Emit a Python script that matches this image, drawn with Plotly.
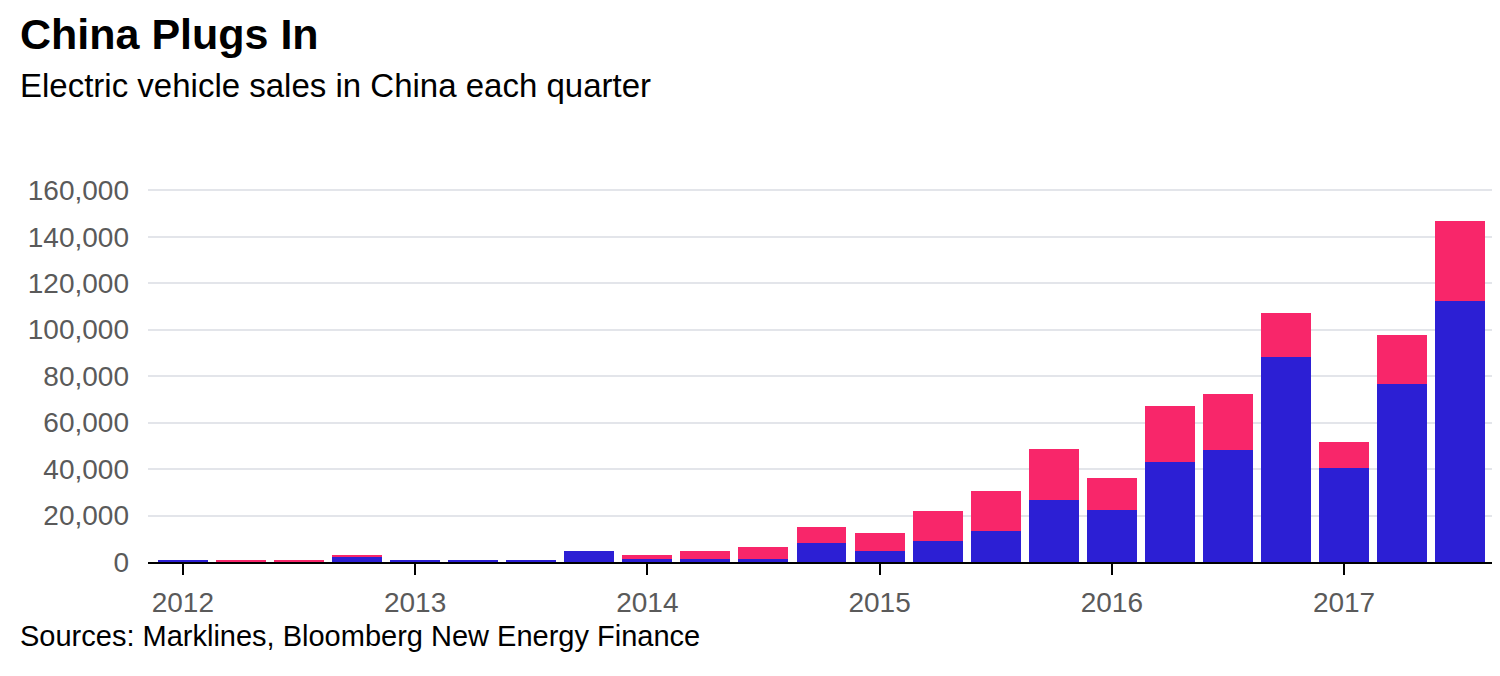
import plotly.graph_objects as go

quarters = [f"{y} Q{q}" for y in range(2012, 2018) for q in range(1, 5)][:23]
battery_electric = [800, 0, 0, 2400, 800, 800, 800, 4950,
                    1500, 1500, 1500, 8300, 4860, 9160, 13460, 26480,
                    22230, 42870, 48030, 88450, 40290, 76410, 112530]
plug_in_hybrid = [0, 800, 800, 800, 0, 0, 0, 0,
                  1700, 3450, 5160, 6880, 7740, 12900, 17200, 22320,
                  13770, 24080, 24080, 18920, 11180, 21500, 34400]
year_ticks = ["2012 Q1", "2013 Q1", "2014 Q1", "2015 Q1", "2016 Q1", "2017 Q1"]
year_labels = ["2012", "2013", "2014", "2015", "2016", "2017"]
y_ticks = [0, 20000, 40000, 60000, 80000, 100000, 120000, 140000, 160000]

# page body has an 8px margin; target screen coords are converted below
OFF = 8
W, H = 1500, 676
L, R, T, B = 148 - OFF, 13, 181 - OFF, 114 + OFF
PW, PH = W - L - R, H - T - B

def px(x):
    return (x - OFF - L) / PW

def py(y):
    return (H - B - (y - OFF)) / PH

FONT = "Liberation Sans, Arial, sans-serif"

fig = go.Figure()
fig.add_trace(go.Bar(x=quarters, y=battery_electric, name="Battery electric",
                     marker=dict(color="#2c1fd4", line=dict(width=0))))
fig.add_trace(go.Bar(x=quarters, y=plug_in_hybrid, name="Plug-in hybrid",
                     marker=dict(color="#f8266a", line=dict(width=0))))

fig.update_layout(
    width=W, height=H,
    margin=dict(l=L, r=R, t=T, b=B, autoexpand=False),
    barmode="stack", bargap=0.14,
    showlegend=False,
    plot_bgcolor="white", paper_bgcolor="white",
    font=dict(family=FONT, color="#5a5a5a", size=28),
    xaxis=dict(
        type="category", categoryorder="array", categoryarray=quarters,
        range=[-0.6, 22.6],
        tickmode="array", tickvals=year_ticks, ticktext=year_labels,
        ticks="outside", ticklen=11, tickwidth=2, tickcolor="black",
        showline=True, linecolor="black", linewidth=2,
        showgrid=False, zeroline=False,
        ticklabelstandoff=3,
        tickfont=dict(size=28, color="#5a5a5a"),
    ),
    yaxis=dict(
        range=[0, 164000],
        tickmode="array", tickvals=y_ticks,
        ticktext=[f"{v:,}" for v in y_ticks],
        ticks="", showline=False, zeroline=False,
        showgrid=True, gridcolor="#e3e5ea", gridwidth=2,
        ticklabelstandoff=18,
        tickfont=dict(size=28, color="#5a5a5a"),
    ),
    annotations=[
        dict(text="<b>China Plugs In</b>", x=px(18), y=py(34), xref="paper", yref="paper",
             xanchor="left", yanchor="middle", showarrow=False,
             font=dict(family=FONT, size=43, color="black")),
        dict(text="Electric vehicle sales in China each quarter", x=px(18), y=py(85),
             xref="paper", yref="paper", xanchor="left", yanchor="middle", showarrow=False,
             font=dict(family=FONT, size=33, color="black")),
        dict(text="Sources: Marklines, Bloomberg New Energy Finance", x=px(18), y=py(636),
             xref="paper", yref="paper", xanchor="left", yanchor="middle", showarrow=False,
             font=dict(family=FONT, size=29, color="black")),
    ],
)

fig.write_html("out.html")
